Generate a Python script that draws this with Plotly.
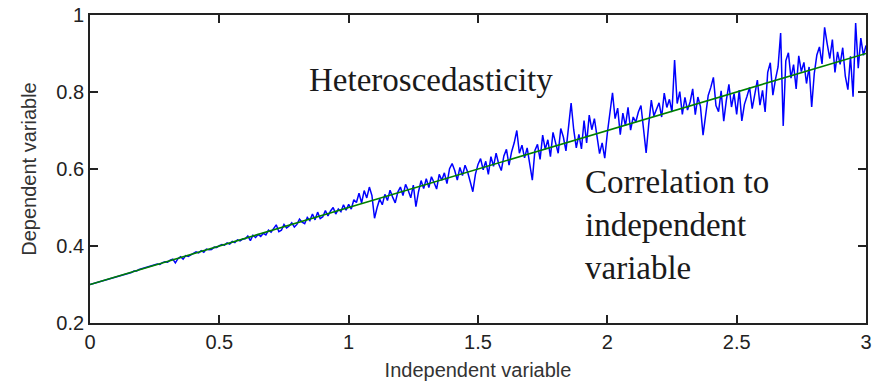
import numpy as np
import plotly.graph_objects as go

# Independent variable sampled on [0, 3]
x_start, x_stop, n_points = 0.0, 3.0, 301

# Observed dependent variable (noise grows with the independent variable)
y_obs = [
    0.300, 0.302, 0.305, 0.306, 0.309, 0.309, 0.313, 0.314, 0.315, 0.319,
    0.321, 0.321, 0.325, 0.326, 0.327, 0.331, 0.331, 0.335, 0.335, 0.339,
    0.341, 0.343, 0.343, 0.347, 0.347, 0.351, 0.353, 0.352, 0.357, 0.359,
    0.358, 0.363, 0.366, 0.356, 0.367, 0.372, 0.366, 0.375, 0.373, 0.377,
    0.381, 0.385, 0.382, 0.388, 0.384, 0.392, 0.390, 0.391, 0.397, 0.396,
    0.401, 0.404, 0.402, 0.408, 0.405, 0.412, 0.409, 0.416, 0.413, 0.418,
    0.419, 0.426, 0.414, 0.428, 0.422, 0.430, 0.425, 0.433, 0.429, 0.441,
    0.436, 0.447, 0.455, 0.437, 0.441, 0.456, 0.447, 0.452, 0.460, 0.449,
    0.456, 0.470, 0.462, 0.458, 0.474, 0.466, 0.483, 0.468, 0.488, 0.471,
    0.476, 0.492, 0.478, 0.491, 0.500, 0.483, 0.496, 0.489, 0.507, 0.493,
    0.508, 0.496, 0.520, 0.513, 0.537, 0.512, 0.544, 0.525, 0.553, 0.531,
    0.472, 0.500, 0.522, 0.507, 0.534, 0.518, 0.545, 0.527, 0.512, 0.540,
    0.553, 0.531, 0.560, 0.545, 0.525, 0.558, 0.502, 0.541, 0.570, 0.549,
    0.575, 0.552, 0.580, 0.565, 0.548, 0.586, 0.571, 0.590, 0.562, 0.601,
    0.614, 0.596, 0.571, 0.604, 0.583, 0.610, 0.592, 0.567, 0.541, 0.586,
    0.612, 0.627, 0.598, 0.620, 0.586, 0.632, 0.607, 0.641, 0.613, 0.596,
    0.634, 0.651, 0.610, 0.645, 0.668, 0.700, 0.641, 0.662, 0.629, 0.655,
    0.612, 0.571, 0.648, 0.664, 0.625, 0.688, 0.651, 0.676, 0.632, 0.695,
    0.668, 0.641, 0.705, 0.683, 0.647, 0.714, 0.771, 0.702, 0.655, 0.690,
    0.652, 0.726, 0.668, 0.740, 0.702, 0.731, 0.690, 0.640, 0.668, 0.628,
    0.693, 0.742, 0.798, 0.731, 0.758, 0.689, 0.745, 0.712, 0.760, 0.701,
    0.735, 0.722, 0.748, 0.765, 0.703, 0.642, 0.716, 0.779, 0.738, 0.756,
    0.772, 0.735, 0.797, 0.760, 0.781, 0.748, 0.883, 0.770, 0.801, 0.742,
    0.786, 0.753, 0.774, 0.808, 0.741, 0.787, 0.762, 0.688, 0.735, 0.791,
    0.812, 0.838, 0.765, 0.749, 0.803, 0.724, 0.778, 0.820, 0.761, 0.796,
    0.742, 0.805, 0.725, 0.768, 0.789, 0.812, 0.757, 0.794, 0.831, 0.766,
    0.804, 0.748, 0.851, 0.876, 0.792, 0.833, 0.865, 0.953, 0.712, 0.881,
    0.902, 0.836, 0.871, 0.808, 0.894, 0.853, 0.877, 0.822, 0.865, 0.761,
    0.848, 0.896, 0.917, 0.873, 0.968, 0.925, 0.887, 0.936, 0.851, 0.904,
    0.872, 0.915, 0.841, 0.806, 0.893, 0.788, 0.979, 0.862, 0.940, 0.895,
    0.921,
]

# Fitted straight line (end points)
fit_x = [0.0, 3.0]
fit_y = [0.30, 0.90]

# Axis ticks
x_ticks = [0, 0.5, 1, 1.5, 2, 2.5, 3]
x_tick_text = ["0", "0.5", "1", "1.5", "2", "2.5", "3"]
y_ticks = [0.2, 0.4, 0.6, 0.8, 1.0]
y_tick_text = ["0.2", "0.4", "0.6", "0.8", "1"]

x_obs = np.linspace(x_start, x_stop, n_points)

fig = go.Figure()
fig.add_trace(go.Scatter(
    x=x_obs, y=y_obs, mode="lines",
    line=dict(color="#0000ff", width=1.5),
    showlegend=False, hoverinfo="skip",
))
fig.add_trace(go.Scatter(
    x=fit_x, y=fit_y, mode="lines",
    line=dict(color="#008000", width=1.6),
    showlegend=False, hoverinfo="skip",
))

axis_font = dict(family="Liberation Sans, Arial, sans-serif", size=20, color="#222222")
title_font = dict(family="Liberation Sans, Arial, sans-serif", size=20, color="#333333")

fig.update_xaxes(
    range=[0, 3], tickmode="array", tickvals=x_ticks, ticktext=x_tick_text,
    ticks="inside", ticklen=8, tickwidth=1.5, tickcolor="#222222",
    showline=True, linecolor="#222222", linewidth=1.8, mirror="ticks",
    showgrid=False, zeroline=False, tickfont=axis_font, automargin=False,
    title=dict(text="Independent variable", font=title_font, standoff=14),
)
fig.update_yaxes(
    range=[0.2, 1.0], tickmode="array", tickvals=y_ticks, ticktext=y_tick_text,
    ticks="inside", ticklen=8, tickwidth=1.5, tickcolor="#222222",
    showline=True, linecolor="#222222", linewidth=1.8, mirror="ticks",
    showgrid=False, zeroline=False, tickfont=axis_font, automargin=False,
    title=dict(text="Dependent variable", font=title_font, standoff=14),
)

serif = dict(family="Liberation Serif, Times New Roman, serif", size=33, color="#1a1a1a")
fig.add_annotation(
    x=1.32, y=0.831, xref="x", yref="y", text="Heteroscedasticity",
    showarrow=False, font=serif, xanchor="center", yanchor="middle",
)
fig.add_annotation(
    x=1.905, y=0.618, xref="x", yref="y",
    text="Correlation to<br>independent<br>variable",
    showarrow=False, font=serif, xanchor="left", yanchor="top", align="left",
)

fig.update_layout(
    width=874, height=381,
    margin=dict(l=90, r=8, t=15, b=58),
    paper_bgcolor="white", plot_bgcolor="white",
)

fig.write_html("out.html")
